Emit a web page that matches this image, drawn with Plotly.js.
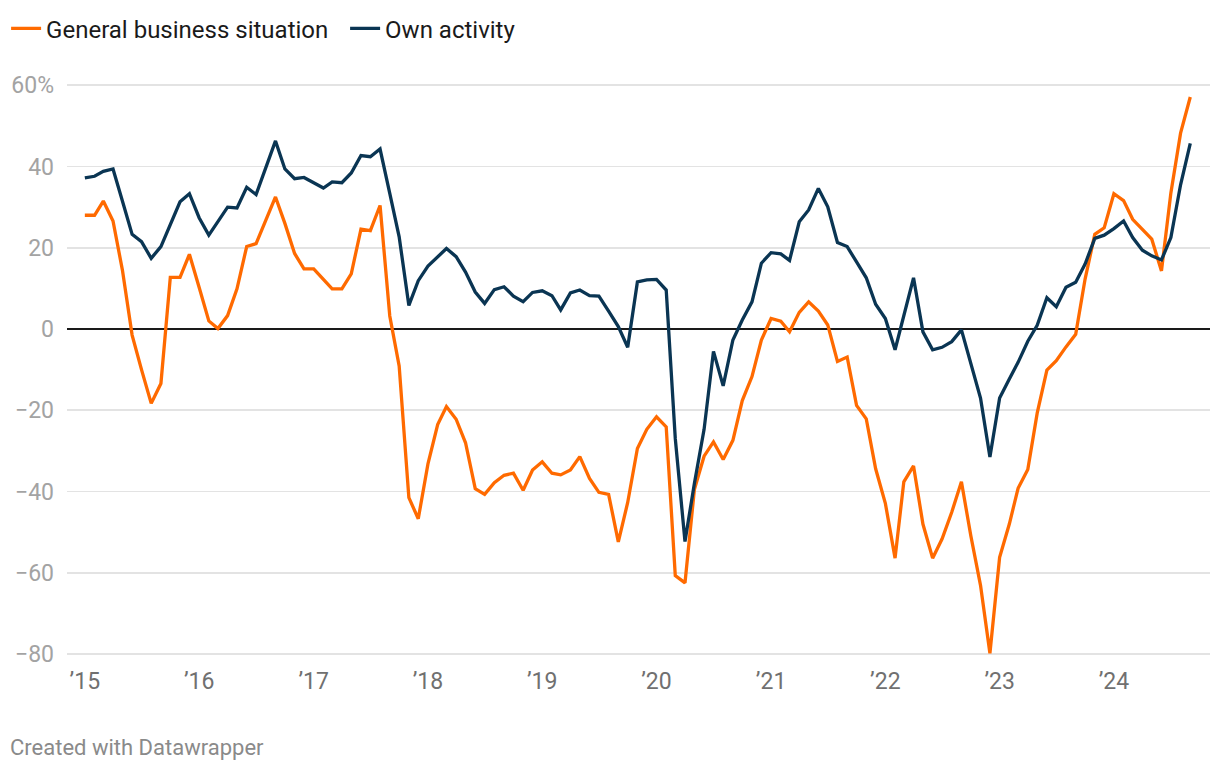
<!DOCTYPE html>
<html>
<head>
<meta charset="utf-8">
<script src="https://cdn.plot.ly/plotly-3.0.1.min.js"></script>
<style>
  html, body { margin: 0; padding: 0; background: #ffffff; }
  #chart { width: 1220px; height: 772px; }
</style>
</head>
<body>
<div id="chart"></div>
<script>
// Monthly series, January 2015 to September 2024 (balance, %)
const startYear = 2015;
const seriesNames = ["General business situation", "Own activity"];
const generalBusiness = [
  28.0, 28.0, 31.5, 26.6, 14.5, -1.5, -10.0, -18.3, -13.4, 12.7, 12.7, 18.4,
  10.3, 2.0, 0.1, 3.3, 9.9, 20.3, 21.0, 27.0, 32.5, 26.0, 18.6, 14.8,
  14.8, 12.2, 9.9, 9.9, 13.6, 24.6, 24.2, 30.4, 3.2, -9.1, -41.5, -46.7,
  -33.2, -23.5, -19.1, -22.2, -28.0, -39.3, -40.7, -37.8, -36.0, -35.5, -39.7, -34.7,
  -32.7, -35.5, -35.9, -34.7, -31.4, -36.8, -40.2, -40.7, -52.4, -42.7, -29.4, -24.7,
  -21.6, -24.1, -60.7, -62.5, -39.5, -31.3, -27.8, -32.1, -27.4, -17.6, -11.7, -2.7,
  2.6, 1.9, -0.7, 4.1, 6.7, 4.4, 1.0, -8.0, -6.9, -18.8, -22.1, -34.4,
  -42.9, -56.4, -37.6, -33.7, -48.0, -56.4, -51.7, -45.1, -37.6, -50.9, -63.1, -79.8,
  -56.2, -48.0, -39.2, -34.6, -20.7, -10.1, -7.8, -4.4, -1.3, 12.3, 23.3, 24.9,
  33.3, 31.6, 27.0, 24.5, 22.1, 14.3, 33.5, 48.2, 57.1
];
const ownActivity = [
  37.2, 37.6, 38.8, 39.4, 31.5, 23.3, 21.5, 17.4, 20.3, 25.8, 31.3, 33.3,
  27.4, 23.1, 26.6, 30.0, 29.8, 34.9, 33.1, 39.5, 46.3, 39.4, 37.0, 37.3,
  36.0, 34.7, 36.2, 36.0, 38.4, 42.7, 42.4, 44.3, 33.4, 22.7, 5.8, 11.9,
  15.5, 17.9, 19.8, 17.8, 14.0, 9.1, 6.3, 9.7, 10.4, 8.1, 6.7, 9.0,
  9.4, 8.2, 4.7, 8.9, 9.6, 8.2, 8.1, 4.4, 0.6, -4.5, 11.6, 12.1,
  12.2, 9.6, -27.0, -52.3, -38.0, -24.7, -5.5, -14.0, -2.7, 2.2, 6.7, 16.2,
  18.8, 18.5, 16.9, 26.4, 29.3, 34.6, 30.1, 21.3, 20.3, 16.5, 12.6, 6.1,
  2.6, -5.1, 3.4, 12.6, -0.7, -5.1, -4.5, -3.1, -0.2, -8.4, -17.0, -31.5,
  -17.0, -12.3, -8.2, -3.0, 0.9, 7.7, 5.5, 10.3, 11.5, 16.0, 22.3, 23.1,
  24.7, 26.6, 22.5, 19.4, 18.0, 17.0, 22.5, 35.5, 45.7
];
const xTickYears = [2015, 2016, 2017, 2018, 2019, 2020, 2021, 2022, 2023, 2024];
const xTickLabels = ["\u201915", "\u201916", "\u201917", "\u201918", "\u201919", "\u201920", "\u201921", "\u201922", "\u201923", "\u201924"];
const yTickValues = [-80, -60, -40, -20, 0, 20, 40, 60];
const yTickLabels = ["\u221280", "\u221260", "\u221240", "\u221220", "0", "20", "40", "60%"];

function monthDate(i) {
  const y = startYear + Math.floor(i / 12);
  const m = (i % 12) + 1;
  return y + "-" + (m < 10 ? "0" + m : m) + "-01";
}
const months = generalBusiness.map((_, i) => monthDate(i));
const xTickDates = xTickYears.map(y => y + "-01-01");

const traces = [
  {
    x: months, y: generalBusiness, name: seriesNames[0],
    type: "scatter", mode: "lines",
    line: { color: "#ff6a00", width: 3.3, shape: "linear" }
  },
  {
    x: months, y: ownActivity, name: seriesNames[1],
    type: "scatter", mode: "lines",
    line: { color: "#0a3553", width: 3.3, shape: "linear" }
  }
];

const layout = {
  width: 1220, height: 772,
  paper_bgcolor: "#ffffff", plot_bgcolor: "#ffffff",
  font: { family: "Roboto, 'Noto Sans', sans-serif", color: "#333333" },
  margin: { l: 67, r: 10, t: 69, b: 107, pad: 0 },
  showlegend: true,
  legend: {
    orientation: "h",
    xref: "container", yref: "container",
    x: 0.005, y: 0.992, xanchor: "left", yanchor: "top",
    font: { size: 24, color: "#1a1a1a", family: "Roboto, sans-serif" },
    itemwidth: 30, tracegroupgap: 0,
    entrywidth: 294, entrywidthmode: "pixels",
    bgcolor: "rgba(0,0,0,0)"
  },
  xaxis: {
    type: "date",
    range: ["2014-11-05", "2024-11-03"],
    tickvals: xTickDates, ticktext: xTickLabels,
    tickfont: { size: 23, color: "#707070" },
    showgrid: false, zeroline: false, showline: false,
    ticks: "", ticklabelstandoff: 0,
    fixedrange: true
  },
  yaxis: {
    range: [-82.7, 64],
    tickvals: yTickValues, ticktext: yTickLabels,
    tickfont: { size: 23, color: "#a3a3a3" },
    showgrid: true, gridcolor: "#e3e3e3", gridwidth: 1.6,
    zeroline: true, zerolinecolor: "#1a1a1a", zerolinewidth: 2,
    showline: false, ticks: "", ticklabelstandoff: 12,
    fixedrange: true
  },
  annotations: [
    {
      text: "Created with Datawrapper",
      xref: "paper", yref: "paper",
      x: -0.0517, y: -0.139, xanchor: "left", yanchor: "middle",
      showarrow: false,
      font: { size: 22, color: "#8a8a8a", family: "Roboto, sans-serif" }
    }
  ],
  hovermode: false
};

Plotly.newPlot("chart", traces, layout, { displayModeBar: false, staticPlot: true });
</script>
</body>
</html>
